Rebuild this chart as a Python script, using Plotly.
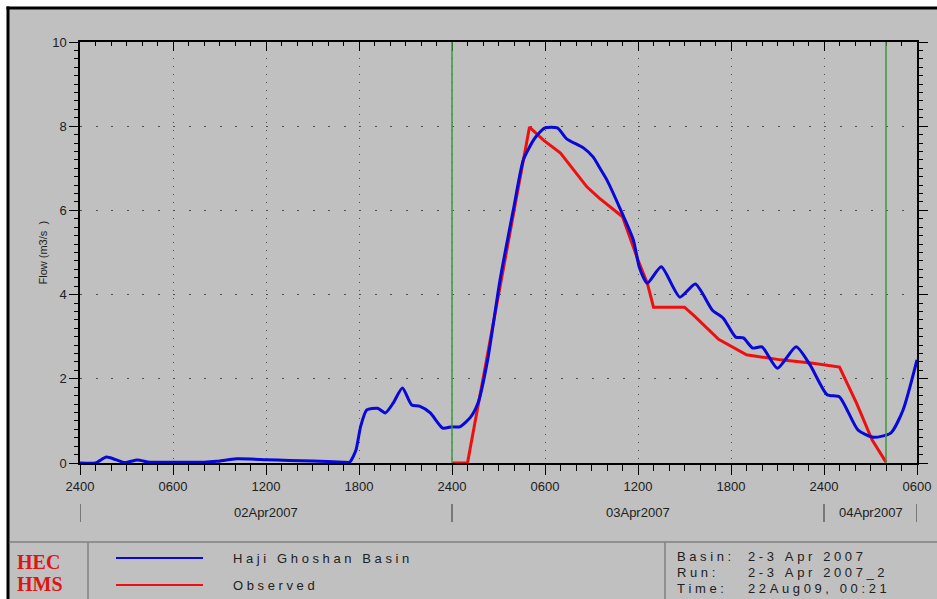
import plotly.graph_objects as go

# ---------------- data ----------------
# time in hours after 02Apr2007 00:00 (shown as "2400" of 01Apr)
sim_hours = [0, 1.0, 1.7, 2.3, 2.9, 3.7, 4.5, 6, 8, 8.8, 10.1, 12, 13.5, 15, 17, 17.4, 17.8,
             18.1, 18.5, 19.2, 19.7, 20.2, 20.8, 21.4, 21.9, 22.6, 23.4, 24.0, 24.5, 25.2,
             25.7, 26.3, 27.1, 28.0, 28.6, 29.35, 30.0, 30.8, 31.4, 32.5, 33.1, 33.5, 34.0,
             34.8, 35.7, 36.1, 36.6, 37.5, 38.7, 39.7, 40.8, 41.5, 42.3, 42.8, 43.4, 44.0,
             45.0, 46.2, 47.1, 48.2, 49.0, 50.2, 51.2, 52.3, 53.1, 54.0]
sim_flow = [0, 0, 0.14, 0.08, 0.01, 0.07, 0.02, 0.02, 0.02, 0.04, 0.1, 0.08, 0.06, 0.05, 0.02,
            0.02, 0.3, 0.86, 1.26, 1.3, 1.19, 1.42, 1.78, 1.38, 1.35, 1.19, 0.83, 0.86, 0.86,
            1.09, 1.45, 2.45, 4.35, 6.1, 7.2, 7.72, 7.96, 7.96, 7.7, 7.48, 7.27, 7.03, 6.72,
            6.08, 5.3, 4.63, 4.27, 4.66, 3.94, 4.25, 3.63, 3.44, 2.99, 2.97, 2.73, 2.76, 2.25,
            2.76, 2.33, 1.62, 1.57, 0.78, 0.61, 0.71, 1.26, 2.45]

obs_hours = [24, 25, 29, 29.9, 31, 32.7, 33.5, 35, 36, 36.6, 37, 39, 39.7, 41.2, 43, 45.2,
             47.3, 49, 50.1, 51.1, 52]
obs_flow = [0, 0, 7.98, 7.67, 7.36, 6.56, 6.29, 5.85, 4.82, 4.27, 3.7, 3.7, 3.47, 2.94, 2.57,
            2.45, 2.37, 2.28, 1.42, 0.55, 0.02]

x_tick_vals = [0, 6, 12, 18, 24, 30, 36, 42, 48, 54]
x_tick_text = ["2400", "0600", "1200", "1800", "2400", "0600", "1200", "1800", "2400", "0600"]
y_tick_vals = [0, 2, 4, 6, 8, 10]

day_labels = ["02Apr2007", "03Apr2007", "04Apr2007"]
day_centers = [12, 36, 51]
day_bars = [0, 24, 48, 54]
green_lines = [24, 52]

series_names = ["Haji Ghoshan Basin", "Observed"]
info_labels = ["Basin:", "Run:", "Time:"]
info_values = ["2-3 Apr 2007", "2-3 Apr 2007_2", "22Aug09, 00:21"]

# ---------------- helpers ----------------
W, H = 937, 599
L, R, T, B = 80, 917, 42, 463          # plot area in pixels


def px(x):
    return (x - L) / (R - L)


def py(y):
    return (B - y) / (B - T)


NB = "\u00a0"


def spaced(s):
    words = s.split(" ")
    return (NB * 3).join(NB.join(list(w)) for w in words)


BG = "#c0c0c0"
FONT = "Liberation Sans, Arial, sans-serif"
TXT = "#202020"
SERIF = "Liberation Serif, Times New Roman, serif"

fig = go.Figure()
fig.add_trace(go.Scatter(x=obs_hours, y=obs_flow, mode="lines", name=series_names[1],
                         line=dict(color="#ee1010", width=3)))
fig.add_trace(go.Scatter(x=sim_hours, y=sim_flow, mode="lines", name=series_names[0],
                         line=dict(color="#0808d8", width=3, shape="spline", smoothing=0.6)))
# empty helper trace so the top axis (inside ticks) gets drawn
fig.add_trace(go.Scatter(x=[], y=[], xaxis="x2", yaxis="y", mode="lines",
                         showlegend=False, hoverinfo="skip"))

shapes = []
# gray panel with black top/left border
shapes.append(dict(type="rect", xref="paper", yref="paper", x0=px(8), x1=px(W + 5),
                   y0=py(H + 5), y1=py(7), fillcolor=BG, line=dict(width=0), layer="below"))
shapes.append(dict(type="line", xref="paper", yref="paper", x0=px(6.5), x1=px(W + 5),
                   y0=py(8), y1=py(8), line=dict(color="black", width=3)))
shapes.append(dict(type="line", xref="paper", yref="paper", x0=px(8), x1=px(8),
                   y0=py(6.5), y1=py(H + 5), line=dict(color="black", width=3)))
# legend panel separators
shapes.append(dict(type="line", xref="paper", yref="paper", x0=px(9.5), x1=px(W + 5),
                   y0=py(542), y1=py(542), line=dict(color="#808080", width=1.5)))
for xx in (88, 665):
    shapes.append(dict(type="line", xref="paper", yref="paper", x0=px(xx), x1=px(xx),
                       y0=py(542), y1=py(H + 5), line=dict(color="#808080", width=1.5)))
# legend sample lines
shapes.append(dict(type="line", xref="paper", yref="paper", x0=px(116), x1=px(203),
                   y0=py(558), y1=py(558), line=dict(color="#0808d8", width=2)))
shapes.append(dict(type="line", xref="paper", yref="paper", x0=px(116), x1=px(203),
                   y0=py(585), y1=py(585), line=dict(color="#ee1010", width=2)))
# green markers
for g in green_lines:
    shapes.append(dict(type="line", xref="x", yref="paper", x0=g, x1=g, y0=0, y1=1,
                       line=dict(color="#3c9a3c", width=1.5), layer="above"))
# day separator bars
for b in day_bars:
    shapes.append(dict(type="line", xref="x", yref="paper", x0=b, x1=b,
                       y0=py(504), y1=py(522), line=dict(color="#303030", width=1)))

ann = []
for lab, c in zip(day_labels, day_centers):
    ann.append(dict(x=c, y=py(512), xref="x", yref="paper", text=lab, showarrow=False,
                    font=dict(family=FONT, size=13, color=TXT), xanchor="center", yanchor="middle"))
ann.append(dict(x=px(42), y=0.5, xref="paper", yref="paper", text="Flow (m3/s" + NB + NB + ")",
                textangle=-90, showarrow=False, font=dict(family=FONT, size=11, color=TXT),
                xanchor="center", yanchor="middle"))
ann.append(dict(x=px(15), y=py(562), xref="paper", yref="paper", text="<b>HEC</b>", showarrow=False,
                font=dict(family=SERIF, size=20, color="#dd1515"),
                xanchor="left", yanchor="middle"))
ann.append(dict(x=px(15), y=py(584), xref="paper", yref="paper", text="<b>HMS</b>", showarrow=False,
                font=dict(family=SERIF, size=20, color="#dd1515"),
                xanchor="left", yanchor="middle"))
for name, yy in zip(series_names, (558, 586)):
    ann.append(dict(x=px(231), y=py(yy), xref="paper", yref="paper", text=spaced(name),
                    showarrow=False, font=dict(family=FONT, size=13, color=TXT),
                    xanchor="left", yanchor="middle"))
for lab, val, yy in zip(info_labels, info_values, (556, 572, 588)):
    ann.append(dict(x=px(675), y=py(yy), xref="paper", yref="paper", text=spaced(lab),
                    showarrow=False, font=dict(family=FONT, size=13, color=TXT),
                    xanchor="left", yanchor="middle"))
    ann.append(dict(x=px(746), y=py(yy), xref="paper", yref="paper", text=spaced(val),
                    showarrow=False, font=dict(family=FONT, size=13, color=TXT),
                    xanchor="left", yanchor="middle"))

axis_common = dict(showline=True, linecolor="black", linewidth=1.5, zeroline=False,
                   tickcolor="black", tickwidth=1, automargin=False)

fig.update_layout(
    width=W, height=H,
    margin=dict(l=L, r=W - R, t=T, b=H - B, autoexpand=False),
    paper_bgcolor="white", plot_bgcolor=BG,
    showlegend=False,
    shapes=shapes, annotations=ann,
    xaxis=dict(range=[0, 54], tickmode="array", tickvals=x_tick_vals, ticktext=x_tick_text,
               ticks="outside", ticklen=10, ticklabelstandoff=1,
               tickfont=dict(family=FONT, size=13, color=TXT),
               showgrid=True, gridcolor="#505050", gridwidth=1, griddash="1px,7px",
               minor=dict(tickmode="linear", tick0=0, dtick=1, ticks="outside", ticklen=6,
                          tickcolor="black", showgrid=False),
               **axis_common),
    yaxis=dict(range=[0, 10], tickmode="array", tickvals=y_tick_vals,
               ticks="outside", ticklen=9, mirror="ticks",
               tickfont=dict(family=FONT, size=13, color=TXT),
               showgrid=True, gridcolor="#505050", gridwidth=1, griddash="2px,13.5px",
               minor=dict(tickmode="linear", tick0=0, dtick=0.2, ticks="outside", ticklen=4,
                          tickcolor="black", showgrid=False),
               **axis_common),
    xaxis2=dict(range=[0, 54], overlaying="x", side="top", anchor="y", tickmode="array",
                tickvals=x_tick_vals, ticks="inside", ticklen=9, showticklabels=False,
                showgrid=False,
                minor=dict(tickmode="linear", tick0=0, dtick=1, ticks="inside", ticklen=4,
                           tickcolor="black", showgrid=False),
                **axis_common),
)

# remove the page's default body margin so the 937x599 figure fills the window exactly
fig.write_html("out.html",
               config={"displayModeBar": False},
               post_script="document.body.style.margin='0';"
                           "document.documentElement.style.overflow='hidden';")
